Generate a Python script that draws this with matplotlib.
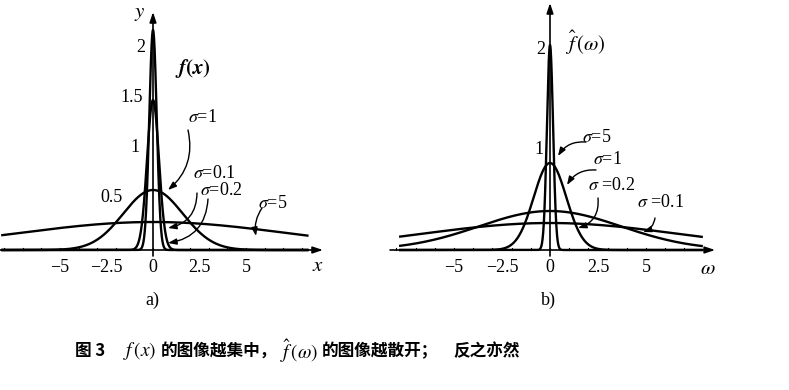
import matplotlib
matplotlib.use("Agg")
import matplotlib.pyplot as plt
import numpy as np

W, H = 789, 390

# curve data: peak height and width (in axis units) per sigma
sigma_labels = ["0.1", "0.2", "1", "5"]
left_peak = [2.2, 1.5, 0.6, 0.28]
left_width = [0.2, 0.32, 1.6, 7.2]
right_peak = [0.27, 0.39, 0.87, 2.05]
right_width = [6.6, 3.7, 0.85, 0.16]

x_ticks = [-5, -2.5, 0, 2.5, 5]
x_tick_text = ["\u22125", "\u22122.5", "0", "2.5", "5"]
left_y_ticks = [2, 1.5, 1, 0.5]
right_y_ticks = [2, 1]

plt.rcParams["mathtext.fontset"] = "stix"
SERIF = "Liberation Serif"
CJK = ["Noto Sans CJK SC", "DejaVu Sans"]


def fig_px(x, y):
    return (x, H - y)


def curve(peak, width, xs):
    return peak * np.exp(-xs ** 2 / (2 * width ** 2))


def setup_axes(fig, left_px, zero_px, scale):
    ax = fig.add_axes([left_px / W, (H - 280) / H, 330 / W, 280 / H])
    ax.set_xlim(-(zero_px - left_px) / scale, (left_px + 330 - zero_px) / scale)
    ax.set_ylim(-0.3, 2.5)
    ax.axis("off")
    return ax


def draw_axes_arrows(ax, x0, x1, ytop):
    ap = dict(arrowstyle="-|>,head_length=0.6,head_width=0.2", lw=1.2, color="black",
              shrinkA=0, shrinkB=0)
    ax.annotate("", xy=(x1, 0), xytext=(x0, 0), arrowprops=ap)
    ax.annotate("", xy=(0, ytop), xytext=(0, -0.06), arrowprops=ap)
    for t in np.arange(np.ceil(x0), np.floor(x1) - 0.5):
        ax.plot([t, t], [0, 0.02], color="black", lw=0.8)


def arrow(fig, start, end, rad):
    fig.add_artist(plt.Annotation(
        "", xy=fig_px(*end), xytext=fig_px(*start), xycoords="figure pixels",
        textcoords="figure pixels",
        arrowprops=dict(arrowstyle="-|>,head_length=0.5,head_width=0.18", lw=1.0,
                        color="black", connectionstyle=f"arc3,rad={rad}",
                        shrinkA=0, shrinkB=0)))


def label(fig, x, y, text, size=13):
    fig.text(x / W, 1 - y / H, text, fontsize=size, family=SERIF, va="center", ha="left")


fig = plt.figure(figsize=(W / 100, H / 100), dpi=100)

# ---- panel a) f(x)
ax1 = setup_axes(fig, 0, 153, 18.6)
xs = np.linspace(-8.1, 8.3, 2000)
for p, w in zip(left_peak, left_width):
    ax1.plot(xs, curve(p, w, xs), color="black", lw=1.7)
draw_axes_arrows(ax1, -8.23, 9.14, 2.38)
for t, s in zip(x_ticks, x_tick_text):
    ax1.text(t, -0.17, s, ha="center", va="center", fontsize=13, family=SERIF)
for t, xr in zip(left_y_ticks, [-0.43, -0.54, -0.7, -1.61]):
    ax1.text(xr, t + 0.02, f"{t:g}", ha="right", va="center", fontsize=13, family=SERIF)
ax1.text(8.87, -0.15, "$x$", fontsize=15, ha="center", va="center")
ax1.text(-0.7, 2.37, "$y$", fontsize=15, ha="center", va="center")
ax1.text(2.15, 1.82, r"$\boldsymbol{f(x)}$", fontsize=15, ha="center", va="center")

# ---- panel b) f-hat(omega)
ax2 = setup_axes(fig, 390, 550, 19.2)
ws = np.linspace(-7.8, 7.9, 2000)
for p, w in zip(right_peak, right_width):
    ax2.plot(ws, curve(p, w, ws), color="black", lw=1.7)
draw_axes_arrows(ax2, -8.33, 8.6, 2.47)
for t, s in zip(x_ticks, x_tick_text):
    ax2.text(t, -0.17, s, ha="center", va="center", fontsize=13, family=SERIF)
for t, xr in zip(right_y_ticks, [-0.26, -0.36]):
    ax2.text(xr, t, f"{t:g}", ha="right", va="center", fontsize=13, family=SERIF)
ax2.text(8.23, -0.18, r"$\omega$", fontsize=15, ha="center", va="center")
ax2.text(1.82, 2.07, r"$\hat{f}\,(\omega)$", fontsize=15, ha="center", va="center")

# ---- sigma callouts
label(fig, 188, 118, r"$\sigma$=" + sigma_labels[2])
label(fig, 193, 173, r"$\sigma$=" + sigma_labels[0])
label(fig, 200, 190, r"$\sigma$=" + sigma_labels[1])
label(fig, 258, 203, r"$\sigma$=" + sigma_labels[3])
arrow(fig, (188, 130), (168, 190), -0.3)
arrow(fig, (197, 193), (168, 228), -0.4)
arrow(fig, (208, 199), (168, 243), -0.4)
arrow(fig, (262, 208), (256, 236), 0.2)

label(fig, 582, 137, r"$\sigma$=" + sigma_labels[3])
label(fig, 593, 160, r"$\sigma$=" + sigma_labels[2])
label(fig, 588, 185, r"$\sigma$ =" + sigma_labels[1])
label(fig, 637, 202, r"$\sigma$ =" + sigma_labels[0])
arrow(fig, (586, 142), (558, 156), 0.3)
arrow(fig, (596, 170), (567, 185), 0.3)
arrow(fig, (598, 198), (578, 228), -0.4)
arrow(fig, (655, 218), (643, 232), -0.3)

# ---- sub-captions and caption
fig.text(152 / W, 1 - 300 / H, "a)", fontsize=13, family=SERIF, ha="center", va="center")
fig.text(548 / W, 1 - 300 / H, "b)", fontsize=13, family=SERIF, ha="center", va="center")

cy = 1 - 351 / H
fig.text(75 / W, cy, "图 3", fontsize=12, family=CJK, fontweight="bold", va="center")
fig.text(123 / W, cy, "$f\\,(x)$", fontsize=14, va="center")
fig.text(161 / W, cy, "的图像越集中，", fontsize=12, family=CJK, fontweight="bold", va="center")
fig.text(280 / W, cy, "$\\hat{f}\\,(\\omega)$", fontsize=14, va="center")
fig.text(322 / W, cy, "的图像越散开；", fontsize=12, family=CJK, fontweight="bold", va="center")
fig.text(453 / W, cy, "反之亦然", fontsize=12, family=CJK, fontweight="bold", va="center")

fig.savefig("out.png", dpi=100)
